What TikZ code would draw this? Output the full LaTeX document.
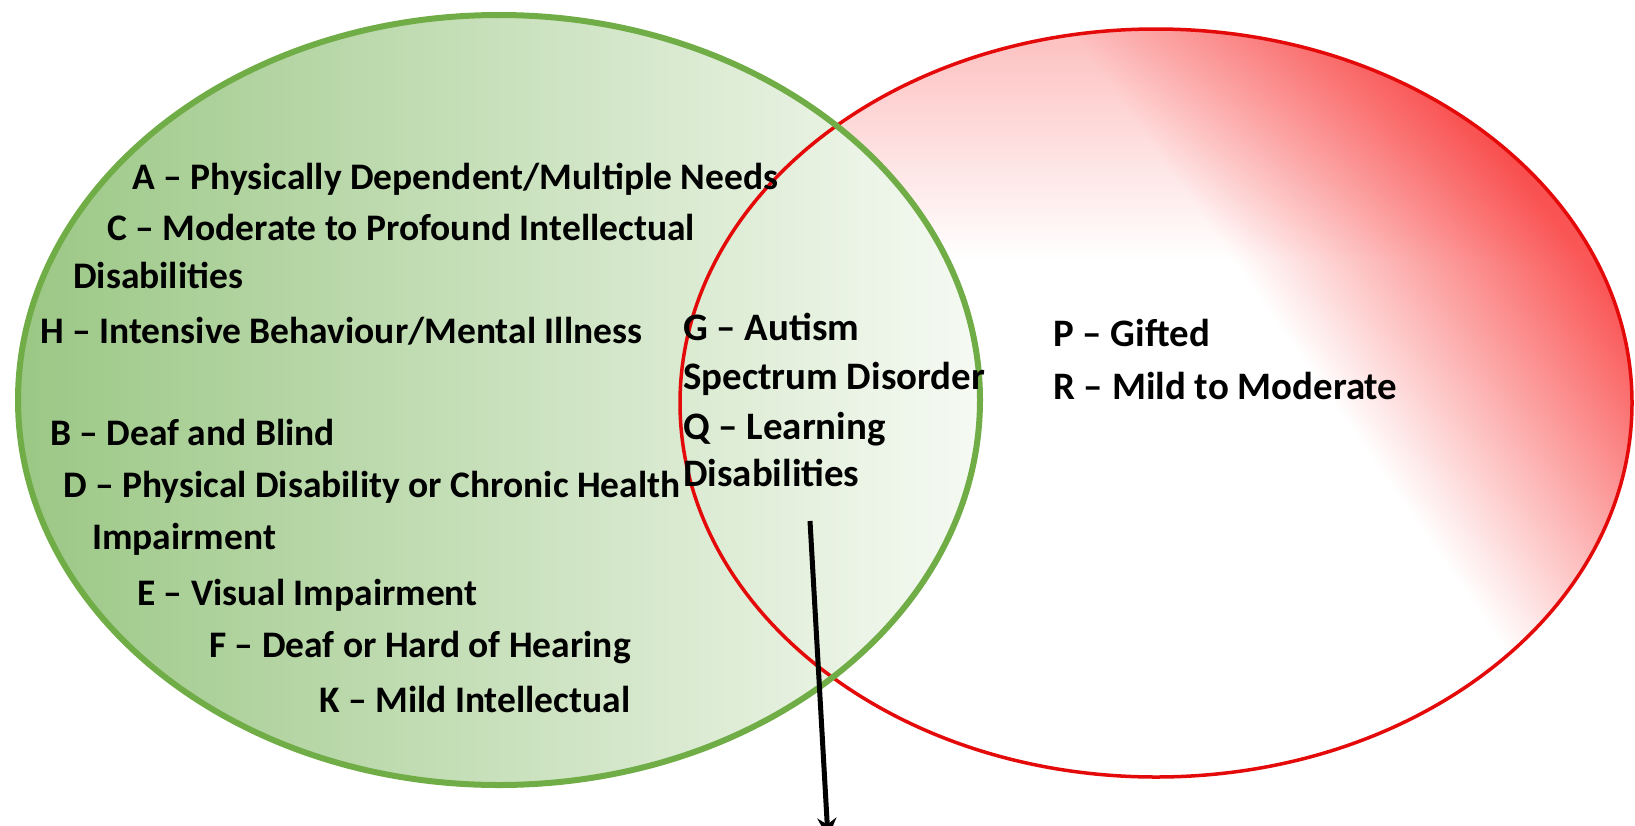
\documentclass[tikz,border=0pt]{standalone}
\usepackage{fontspec}
\setmainfont{Carlito}
\usetikzlibrary{arrows.meta}
\definecolor{setgreen}{RGB}{112,173,71}
\definecolor{greenleft}{RGB}{155,199,133}
\definecolor{greenright}{RGB}{246,250,243}
\definecolor{setred}{RGB}{228,10,10}
\definecolor{redfill}{RGB}{250,88,88}
\pgfdeclarehorizontalshading{redband}{100bp}{color(0bp)=(white); color(56bp)=(white); color(68bp)=(redfill); color(100bp)=(redfill)}
\tikzstyle{leftitem} = [anchor=base west, inner sep=0pt, font=\fontsize{37.5}{42}\selectfont\bfseries]
\tikzstyle{miditem} = [anchor=base west, inner sep=0pt, font=\fontsize{38.9}{44}\selectfont\bfseries]
\tikzstyle{arrow} = [line width=5pt,->,>={Stealth[length=20pt,width=19pt]}]

\begin{document}
\begin{tikzpicture}[x=1pt,y=-1pt]
\useasboundingbox (0,0) rectangle (1635,825);
\coordinate (gc) at (499,400);
\coordinate (rc) at (1156,403);
% red set, white towards the lower left
\begin{scope}
\clip (rc) ellipse (476 and 374);
\fill[white] (rc) ellipse (476 and 374);
\shade[top color=redfill!40, bottom color=white] (680,20) rectangle (1640,260);
\begin{scope}[transform canvas={rotate around={35:(rc)}}]
\shade[shading=redband, blend mode=multiply] ([xshift=-600pt,yshift=-900pt]rc) rectangle ([xshift=600pt,yshift=900pt]rc);
\end{scope}
\end{scope}
\shade[left color=greenleft, right color=greenright] (gc) ellipse (481 and 385);
\draw[setred, line width=3.5pt] (rc) ellipse (476 and 374);
\draw[setgreen, line width=6pt] (gc) ellipse (481 and 385);
% left only
\node (a) [leftitem] at (132,189) {A – Physically Dependent/Multiple Needs};
\node (c) [leftitem] at (107,240) {C – Moderate to Profound Intellectual};
\node (c2) [leftitem] at (73,288) {Disabilities};
\node (h) [leftitem] at (40,343) {H – Intensive Behaviour/Mental Illness};
\node (b) [leftitem] at (50,445) {B – Deaf and Blind};
\node (d) [leftitem] at (63,497) {D – Physical Disability or Chronic Health};
\node (d2) [leftitem] at (92,549) {Impairment};
\node (e) [leftitem] at (137,605) {E – Visual Impairment};
\node (f) [leftitem] at (209,657) {F – Deaf or Hard of Hearing};
\node (k) [leftitem] at (319,712) {K – Mild Intellectual};
% both
\node (g) [miditem] at (683,340) {G – Autism};
\node (g2) [miditem] at (683,389) {Spectrum Disorder};
\node (q) [miditem] at (683,439) {Q – Learning};
\node (q2) [miditem] at (683,486) {Disabilities};
% right only
\node (p) [miditem] at (1053,346) {P – Gifted};
\node (r) [miditem] at (1053,399) {R – Mild to Moderate};
\coordinate (arrowtop) at (810,521);
\coordinate (arrowend) at (828,838);
\draw [arrow] (arrowtop) -- (arrowend);
\end{tikzpicture}
\end{document}
